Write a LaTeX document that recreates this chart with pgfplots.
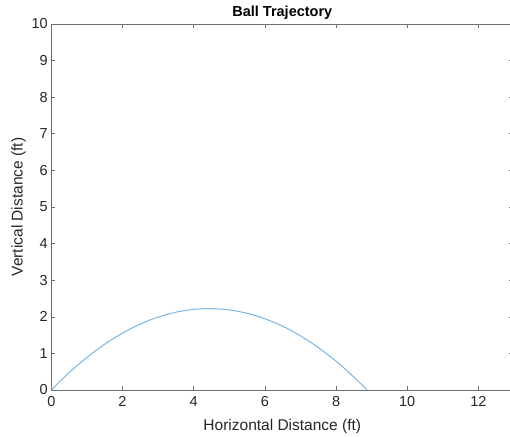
\documentclass[border=0pt]{standalone}
\usepackage{fontspec}
\setmainfont{Liberation Sans}
\usepackage{pgfplots}
\pgfplotsset{compat=1.18}

\definecolor{linecol}{RGB}{120,182,228}
\definecolor{axcol}{RGB}{110,110,110}
\definecolor{txtcol}{RGB}{38,38,38}

\begin{document}
\begin{tikzpicture}[x=1pt,y=1pt]
\path[use as bounding box] (-51.3,-46) rectangle (458.7,390);
\begin{axis}[
    scale only axis,
    width=462pt, height=366pt,
    xmin=0, xmax=12.98,
    ymin=0, ymax=10,
    xtick={0,2,...,12},
    ytick={0,1,...,10},
    tick align=inside,
    major tick length=4pt,
    tick style={axcol, line width=0.6pt},
    axis line style={axcol, line width=0.6pt},
    every tick label/.append style={txtcol},
    /pgf/number format/assume math mode=true,
    tick label style={font=\fontsize{14.5}{16}\selectfont},
    xticklabel style={yshift=-3pt},
    yticklabel style={xshift=0pt},
    title={\textbf{Ball Trajectory}},
    title style={font=\fontsize{14.5}{16}\selectfont, at={(0.5,1)}, anchor=south, yshift=-5pt},
    xlabel={Horizontal Distance (ft)},
    ylabel={Vertical Distance (ft)},
    label style={font=\fontsize{15.5}{17}\selectfont, txtcol},
    xlabel style={yshift=-6pt},
    ylabel style={yshift=-1pt},
]
\addplot[linecol, line width=1pt, no markers] coordinates {
(0,0) (0.25,0.2438) (0.5,0.4734) (0.75,0.6889) (1,0.8903) (1.25,1.0775)
(1.5,1.2505) (1.75,1.4095) (2,1.5543) (2.25,1.6849) (2.5,1.8014)
(2.75,1.9038) (3,1.9920) (3.25,2.0661) (3.5,2.1261) (3.75,2.1719)
(4,2.2036) (4.25,2.2211) (4.5,2.2245) (4.75,2.2137) (5,2.1889)
(5.25,2.1498) (5.5,2.0967) (5.75,2.0294) (6,1.9479) (6.25,1.8523)
(6.5,1.7426) (6.75,1.6187) (7,1.4807) (7.25,1.3286) (7.5,1.1623)
(7.75,0.9819) (8,0.7873) (8.25,0.5786) (8.5,0.3558) (8.75,0.1188)
(8.87,0)
};
\end{axis}
\end{tikzpicture}
\end{document}
